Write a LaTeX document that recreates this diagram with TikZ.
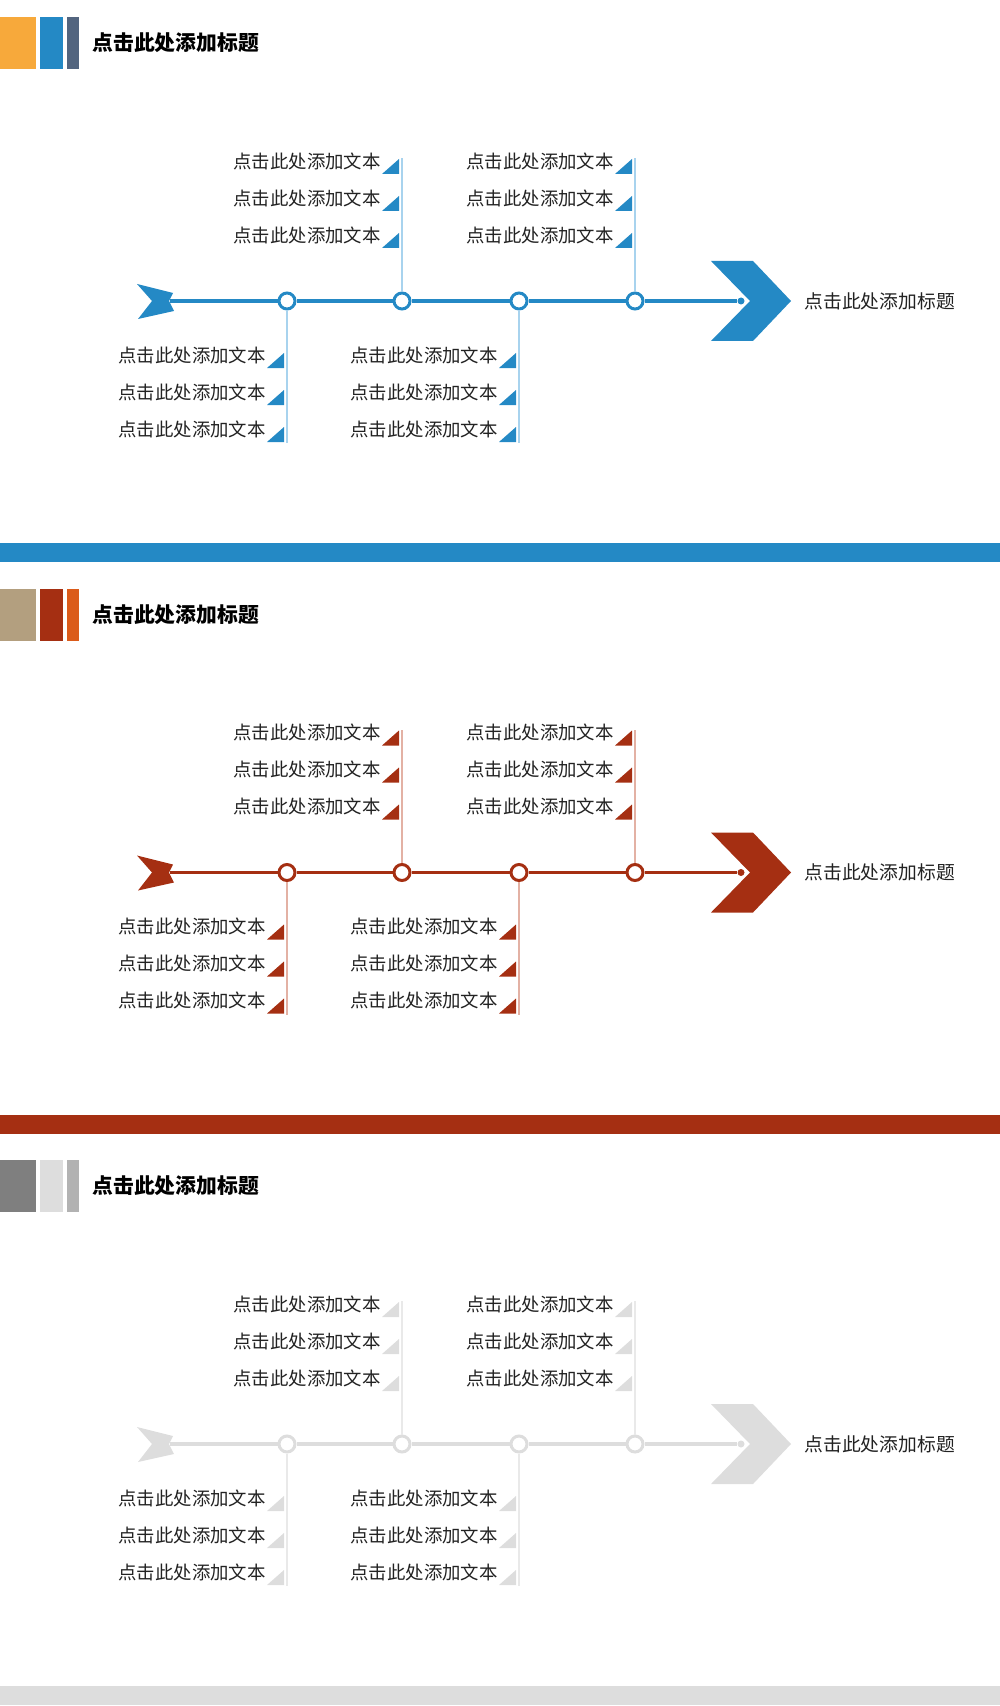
\documentclass[tikz,border=0pt]{standalone}
\usepackage{fontspec}
\newfontfamily\cjk{Noto Sans CJK SC}
\usepackage{tikz}
\usetikzlibrary{positioning}

\definecolor{orangeA}{HTML}{F7A93B}
\definecolor{blueM}{HTML}{2489C5}
\definecolor{slateC}{HTML}{53657F}
\definecolor{blueS}{HTML}{A8D3EE}
\definecolor{tanA}{HTML}{B39F7F}
\definecolor{redM}{HTML}{A52F12}
\definecolor{orangeC}{HTML}{DB5B1A}
\definecolor{redS}{HTML}{E3B1A4}
\definecolor{grayA}{HTML}{7F7F7F}
\definecolor{grayM}{HTML}{DDDDDD}
\definecolor{grayC}{HTML}{B2B2B2}
\definecolor{grayS}{HTML}{E9E9E9}
\definecolor{txtgray}{HTML}{222222}

\begin{document}
\begin{tikzpicture}[x=0.5pt,y=-0.5pt,
    txt/.style={font=\cjk\fontsize{9.2}{11}\selectfont,text=txtgray,inner sep=0pt},
    head/.style={font=\cjk\bfseries\fontsize{10.4}{12}\selectfont,text=black,inner sep=0pt,anchor=west},
    stop/.style={circle,draw=\cm,fill=white,line width=1.5pt,minimum size=8pt,inner sep=0pt},
    enddot/.style={circle,fill=\cm,minimum size=3.5pt,inner sep=0pt},
    mainline/.style={draw=\cm,line width=1.75pt},
    stem/.style={draw=\cs,line width=0.75pt},
    flag/.style={fill=\cm}
    ]
\useasboundingbox (0,0) rectangle (1000,1706);

\foreach \dy/\ca/\cb/\cc/\cm/\cs in {0/orangeA/blueM/slateC/blueM/blueS,
    285.75/tanA/redM/orangeC/redM/redS, 571.5/grayA/grayM/grayC/grayM/grayS}{
\begin{scope}[yshift=-\dy pt]
% header
\fill[\ca] (0,17) rectangle (36,69);
\fill[\cb] (40,17) rectangle (63,69);
\fill[\cc] (67,17) rectangle (79,69);
\node[head] (head) at (92,43) {点击此处添加标题};
\fill[\cm] (0,543) rectangle (1000,562);

% timeline
\node[stop] (c1) at (287,301) {};
\node[stop] (c2) at (402,301) {};
\node[stop] (c3) at (519,301) {};
\node[stop] (c4) at (635,301) {};
\node[enddot] (end) at (741,301) {};
\coordinate (tail) at (170,301);
\coordinate (tip) at (791,301);
\fill[\cm] (137,284) -- (173,293) -- (169,301) -- (174,311) -- (138,319) -- (152,301) -- cycle;
\draw[mainline] (tail) -- (c1) -- (c2) -- (c3) -- (c4) -- (end);
\fill[\cm] (711,261) -- (753,261) -- (tip) -- (753,341) -- (711,341) -- (750,301) -- cycle;
\node[txt,font=\cjk\fontsize{9.4}{11}\selectfont,right=6.5pt of tip] (goal) {点击此处添加标题};

% stems
\coordinate (s1) at (287,443);
\coordinate (s2) at (402,158);
\coordinate (s3) at (519,443);
\coordinate (s4) at (635,158);
\draw[stem] (c1) -- (s1);
\draw[stem] (c2) -- (s2);
\draw[stem] (c3) -- (s3);
\draw[stem] (c4) -- (s4);

% labels
\foreach \sx/\ry in {402/161,402/198,402/235,635/161,635/198,635/235,
    287/355,287/392,287/429,519/355,519/392,519/429}{
  \fill[flag] (\sx-3,\ry+13) -- ++(0,-15) -- ++(-17,15) -- cycle;
  \coordinate (lbl) at (\sx-21,\ry);
  \node[txt,left=0pt of lbl] (item) {点击此处添加文本};
}
\end{scope}
}
\end{tikzpicture}
\end{document}
